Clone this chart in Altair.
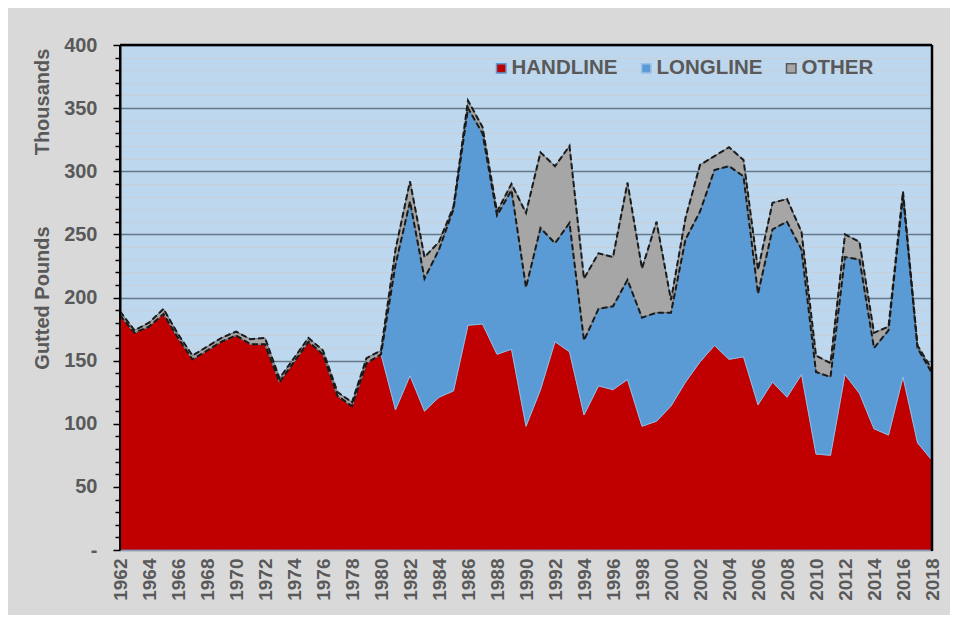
import altair as alt
import pandas as pd

years = list(range(1962, 2019))

handline = [186, 172, 177, 187, 168, 151, 158, 165, 170, 163,
            163, 133, 149, 165, 155, 122, 114, 148, 155, 111,
            138, 110, 121, 126, 178, 179, 155, 159, 98, 127,
            165, 157, 107, 130, 127, 135, 98, 102, 114, 133,
            149, 162, 151, 153, 115, 133, 121, 139, 76, 75,
            139, 124, 96, 91, 137, 85, 71]

longline = [0] * 19 + [
    115, 138, 105, 117, 144, 172, 151, 110, 126, 110, 128,
    78, 102, 59, 61, 66, 79, 86, 86, 74, 113,
    119, 139, 153, 143, 88, 121, 139, 99, 65, 62,
    93, 106, 64, 83, 144, 75, 69]

other = [3, 2, 3, 4, 3, 3, 3, 3, 3, 4,
         5, 3, 3, 3, 3, 3, 3, 4, 3, 12,
         16, 17, 6, 2, 6, 5, 3, 5, 59, 60,
         61, 61, 49, 44, 39, 77, 39, 72, 10, 17,
         37, 11, 15, 13, 19, 21, 18, 14, 13, 11,
         18, 14, 12, 3, 3, 2, 3]

series_names = ["HANDLINE", "LONGLINE", "OTHER"]
fill_colors = ["#c00000", "#5b9bd5", "#a6a6a6"]
stroke_colors = ["#5b9bd5", "#9dc3e6", "#595959"]

rows = []
line_rows = []
for i, yr in enumerate(years):
    h = handline[i]
    l = longline[i]
    o = other[i]
    rows.append({"year": yr, "series": "HANDLINE", "lo": 0, "hi": h})
    rows.append({"year": yr, "series": "LONGLINE", "lo": h, "hi": h + l})
    rows.append({"year": yr, "series": "OTHER", "lo": h + l, "hi": h + l + o})
    line_rows.append({"year": yr, "edge": "lower", "lo": h + l})
    line_rows.append({"year": yr, "edge": "upper", "lo": h + l + o})
df = pd.DataFrame(rows)
df_lines = pd.DataFrame(line_rows)

W, H = 812, 505
FONT = "Liberation Sans"
GREY = "#595959"

x_axis = alt.Axis(
    values=list(range(1962, 2019, 2)), format="d", labelAngle=270,
    labelAlign="right", labelBaseline="middle", labelPadding=8,
    labelFont=FONT, labelFontSize=19, labelFontWeight="bold",
    labelColor=GREY, ticks=False, grid=False, domainColor="#b0a0a0",
    domainWidth=1, title=None, labelOverlap=False,
)

y_axis = alt.Axis(
    values=list(range(0, 401, 10)),
    labelExpr="datum.value % 50 === 0 ? (datum.value === 0 ? '-\u00a0\u00a0' : datum.label) : ''",
    labelFont=FONT, labelFontSize=20, labelFontWeight="bold",
    labelColor=GREY, labelPadding=16,
    tickColor="black", tickWidth=1.5,
    tickSize=alt.condition("datum.value % 50 === 0", alt.value(7), alt.value(5)),
    grid=True,
    gridColor=alt.condition("datum.value % 50 === 0", alt.value("#66778a"), alt.value("#c9cfd6")),
    gridWidth=alt.condition("datum.value % 50 === 0", alt.value(1.6), alt.value(1)),
    domainColor="black", domainWidth=2, title=None, labelOverlap=False,
)

xscale = alt.Scale(domain=[1962, 2018], nice=False, zero=False)
yscale = alt.Scale(domain=[0, 400], nice=False)

areas = alt.Chart(df).mark_area(interpolate="linear", strokeWidth=0.8).encode(
    x=alt.X("year:Q", scale=xscale, axis=x_axis),
    y=alt.Y("lo:Q", scale=yscale, axis=y_axis, stack=None),
    y2="hi:Q",
    fill=alt.Fill("series:N", scale=alt.Scale(domain=series_names, range=fill_colors),
                  legend=alt.Legend(title=None)),
    stroke=alt.Stroke("series:N", scale=alt.Scale(domain=series_names, range=stroke_colors),
                      legend=alt.Legend(title=None)),
    order=alt.Order("series:N"),
)

dashes = alt.Chart(df_lines).mark_line(
    color="#1a1a1a", strokeWidth=2, strokeDash=[6, 3], interpolate="linear"
).encode(
    x=alt.X("year:Q", scale=xscale, axis=x_axis),
    y=alt.Y("lo:Q", scale=yscale, axis=y_axis),
    detail="edge:N",
)

one = pd.DataFrame({"k": [0]})
frame_top = alt.Chart(one).mark_rule(color="black", strokeWidth=2.5).encode(
    x=alt.value(0), x2=alt.value(W), y=alt.value(0))
frame_left = alt.Chart(one).mark_rule(color="black", strokeWidth=2).encode(
    x=alt.value(0), y=alt.value(0), y2=alt.value(H))
frame_right = alt.Chart(one).mark_rule(color="black", strokeWidth=2.5).encode(
    x=alt.value(W), y=alt.value(0), y2=alt.value(H + 1))

title_df1 = pd.DataFrame({"t": ["Thousands"]})
title_df2 = pd.DataFrame({"t": ["Gutted Pounds"]})
t1 = alt.Chart(title_df1).mark_text(angle=270, font=FONT, fontSize=20, fontWeight="bold",
                                     color=GREY, align="center", baseline="middle").encode(
    text="t:N", x=alt.value(-77), y=alt.value(57))
t2 = alt.Chart(title_df2).mark_text(angle=270, font=FONT, fontSize=20, fontWeight="bold",
                                     color=GREY, align="center", baseline="middle").encode(
    text="t:N", x=alt.value(-77), y=alt.value(253))

chart = alt.layer(areas, dashes, frame_top, frame_left, frame_right, t1, t2).properties(
    width=W, height=H,
    autosize=alt.AutoSizeParams(type="none"),
    padding={"left": 112, "top": 37, "right": 18, "bottom": 65},
    background="#d9d9d9",
).configure_view(
    fill="#bdd7ee", stroke=None,
).configure_legend(
    orient="none", legendX=371, legendY=13, direction="horizontal",
    labelFont=FONT, labelFontSize=20.5, labelFontWeight="bold", labelColor=GREY,
    symbolType="square", symbolSize=90, symbolStrokeWidth=1.5,
    columnPadding=18, labelOffset=0, padding=0,
)

chart.save("out.html", embed_options={"renderer": "svg", "actions": False})
